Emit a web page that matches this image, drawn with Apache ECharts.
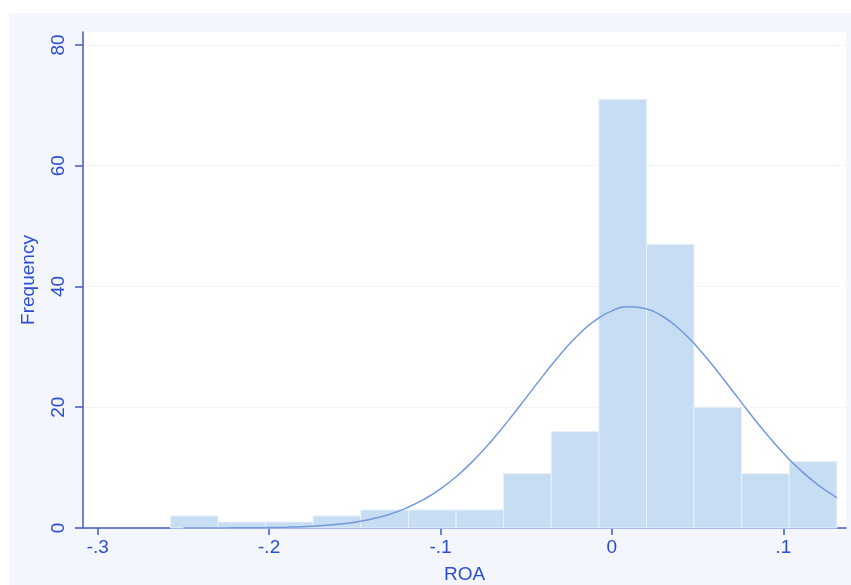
<!DOCTYPE html>
<html>
<head>
<meta charset="utf-8">
<script src="https://cdn.jsdelivr.net/npm/echarts@6/dist/echarts.min.js"></script>
<style>
  html, body { margin: 0; padding: 0; background: #fff; }
  #chart { width: 851px; height: 585px; }
</style>
</head>
<body>
<div id="chart"></div>
<script>
// histogram bins of ROA (lower / upper edge) and counts
const binLow = [-0.2576, -0.2298, -0.2020, -0.1743, -0.1465, -0.1187, -0.0909,
  -0.0632, -0.0354, -0.0076, 0.0202, 0.0479, 0.0757, 0.1035];
const binHigh = [-0.2298, -0.2020, -0.1743, -0.1465, -0.1187, -0.0909, -0.0632,
  -0.0354, -0.0076, 0.0202, 0.0479, 0.0757, 0.1035, 0.1313];
const counts = [2, 1, 1, 2, 3, 3, 3, 9, 16, 71, 47, 20, 9, 11];

// normal density overlay
const curveX = [-0.25, -0.24, -0.23, -0.22, -0.21, -0.20, -0.19, -0.18, -0.17, -0.16,
  -0.15, -0.14, -0.13, -0.12, -0.11, -0.10, -0.09, -0.08, -0.07, -0.06, -0.05, -0.04,
  -0.03, -0.02, -0.01, 0, 0.01, 0.02, 0.03, 0.04, 0.05, 0.06, 0.07, 0.08, 0.09, 0.10,
  0.11, 0.12, 0.13, 0.1313];
const curveY = [0.003, 0.006, 0.011, 0.021, 0.04, 0.07, 0.13, 0.22, 0.37, 0.61,
  0.97, 1.50, 2.25, 3.30, 4.69, 6.48, 8.71, 11.40, 14.50, 17.95, 21.60, 25.28,
  28.78, 31.88, 34.33, 35.96, 36.64, 36.30, 34.99, 32.79, 29.90, 26.51, 22.86, 19.17,
  15.64, 12.41, 9.58, 7.19, 5.25, 5.02];

const xTicks = [-0.3, -0.2, -0.1, 0, 0.1];
const xTickLabels = ["-.3", "-.2", "-.1", "0", ".1"];
const yTicks = [0, 20, 40, 60, 80];

const axisBlue = "#4359c6";
const textBlue = "#2c4dd2";

const myChart = echarts.init(document.getElementById("chart"));

const option = {
  backgroundColor: "#ffffff",
  animation: false,
  graphic: [
    {
      type: "rect",
      z: -10,
      shape: { x: 9, y: 13, width: 842, height: 572 },
      style: { fill: "#f3f7fd" },
    },
  ],
  grid: {
    left: 83,
    right: 5,
    top: 32,
    bottom: 57,
    outerBoundsMode: "none",
    containLabel: false,
    show: true,
    backgroundColor: "#ffffff",
    borderWidth: 0,
  },
  xAxis: {
    type: "value",
    min: -0.3086,
    max: 0.1366,
    name: "ROA",
    nameLocation: "middle",
    nameGap: 37,
    nameTextStyle: { color: textBlue, fontSize: 19, fontFamily: "Liberation Sans" },
    axisLine: { show: true, onZero: false, lineStyle: { color: axisBlue, width: 1.5 } },
    axisTick: {
      show: true,
      length: 7,
      customValues: xTicks,
      lineStyle: { color: axisBlue, width: 1.5 },
    },
    axisLabel: {
      customValues: xTicks,
      color: textBlue,
      fontSize: 19,
      fontFamily: "Liberation Sans",
      margin: 10,
      formatter: (v) => {
        const i = xTicks.findIndex((t) => Math.abs(t - v) < 1e-9);
        return i >= 0 ? xTickLabels[i] : "";
      },
    },
    splitLine: { show: false },
  },
  yAxis: {
    type: "value",
    min: 0,
    max: 82.15,
    name: "Frequency",
    nameLocation: "middle",
    nameGap: 45,
    nameTextStyle: { color: textBlue, fontSize: 19, fontFamily: "Liberation Sans" },
    axisLine: { show: true, onZero: false, lineStyle: { color: axisBlue, width: 1.5 } },
    axisTick: {
      show: true,
      length: 8,
      customValues: yTicks,
      lineStyle: { color: axisBlue, width: 1.5 },
    },
    axisLabel: {
      customValues: yTicks,
      rotate: 90,
      color: textBlue,
      fontSize: 19,
      fontFamily: "Liberation Sans",
      margin: 15,
    },
    splitLine: {
      show: true,
      lineStyle: { color: "#f1f4f9", width: 1 },
    },
  },
  series: [
    {
      type: "custom",
      name: "hist",
      data: binLow.map((lo, i) => [lo, binHigh[i], counts[i]]),
      encode: { x: [0, 1], y: 2 },
      renderItem: (params, api) => {
        const p0 = api.coord([api.value(0), api.value(2)]);
        const p1 = api.coord([api.value(1), 0]);
        return {
          type: "rect",
          shape: { x: p0[0], y: p0[1], width: p1[0] - p0[0], height: p1[1] - p0[1] },
          style: { fill: "#c7ddf4", stroke: "#e8f0fa", lineWidth: 1 },
        };
      },
      z: 1,
    },
    {
      type: "line",
      name: "normal",
      data: curveX.map((x, i) => [x, curveY[i]]),
      smooth: true,
      showSymbol: false,
      lineStyle: { color: "#7399dc", width: 1.5 },
      z: 3,
    },
  ],
};

myChart.setOption(option);
</script>
</body>
</html>
